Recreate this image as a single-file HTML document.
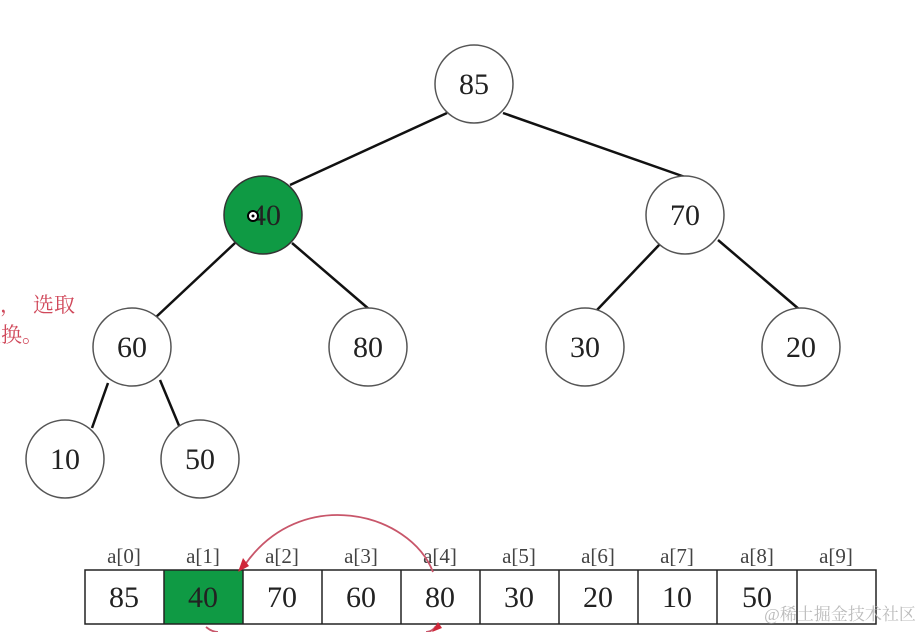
<!DOCTYPE html>
<html><head><meta charset="utf-8"><style>
html,body{margin:0;padding:0;background:#fff;width:920px;height:632px;overflow:hidden}
svg text{font-family:"Liberation Serif","Noto Serif CJK SC",serif}
</style></head><body>
<svg width="920" height="632" viewBox="0 0 920 632" xmlns="http://www.w3.org/2000/svg">
<g stroke="#111" stroke-width="2.5">
<line x1="447" y1="113" x2="290" y2="185"/>
<line x1="503" y1="113" x2="685" y2="177"/>
<line x1="235" y1="243" x2="155" y2="318"/>
<line x1="292" y1="243" x2="370" y2="310"/>
<line x1="660" y1="244" x2="597" y2="310"/>
<line x1="718" y1="240" x2="800" y2="310"/>
<line x1="108" y1="383" x2="92" y2="428"/>
<line x1="160" y1="380" x2="180" y2="428"/>
</g>
<g stroke="#555" stroke-width="1.5" fill="#fff">
<circle cx="474" cy="84" r="39"/>
<circle cx="263" cy="215" r="39" fill="#0f9a44" stroke="#333"/>
<circle cx="685" cy="215" r="39"/>
<circle cx="132" cy="347" r="39"/>
<circle cx="368" cy="347" r="39"/>
<circle cx="585" cy="347" r="39"/>
<circle cx="801" cy="347" r="39"/>
<circle cx="65" cy="459" r="39"/>
<circle cx="200" cy="459" r="39"/>
</g>
<g font-size="30" text-anchor="middle" fill="#222">
<text x="474" y="94">85</text>
<text x="266" y="225">40</text>
<text x="685" y="225">70</text>
<text x="132" y="357">60</text>
<text x="368" y="357">80</text>
<text x="585" y="357">30</text>
<text x="801" y="357">20</text>
<text x="65" y="469">10</text>
<text x="200" y="469">50</text>
</g>
<circle cx="253" cy="216" r="5" fill="#fff" stroke="#000" stroke-width="2"/>
<circle cx="253" cy="216" r="1.5" fill="#000"/>
<g font-size="21" fill="#d0485a" font-family="Liberation Sans,'Noto Sans CJK SC',sans-serif">
<text x="0" y="312">，<tspan x="33">选取</tspan></text>
<text x="-20" y="342">交换。</text>
</g>
<g font-size="21" fill="#444" text-anchor="middle">
<text x="124" y="563">a[0]</text><text x="203" y="563">a[1]</text><text x="282" y="563">a[2]</text><text x="361" y="563">a[3]</text><text x="440" y="563">a[4]</text><text x="519" y="563">a[5]</text><text x="598" y="563">a[6]</text><text x="677" y="563">a[7]</text><text x="757" y="563">a[8]</text><text x="836" y="563">a[9]</text>
</g>
<rect x="164" y="570" width="79" height="54" fill="#0f9a44"/>
<g stroke="#222" stroke-width="1.5" fill="none">
<rect x="85" y="570" width="791" height="54"/>
<line x1="164" y1="570" x2="164" y2="624"/><line x1="243" y1="570" x2="243" y2="624"/><line x1="322" y1="570" x2="322" y2="624"/><line x1="401" y1="570" x2="401" y2="624"/><line x1="480" y1="570" x2="480" y2="624"/><line x1="559" y1="570" x2="559" y2="624"/><line x1="638" y1="570" x2="638" y2="624"/><line x1="717" y1="570" x2="717" y2="624"/><line x1="797" y1="570" x2="797" y2="624"/>
</g>
<g font-size="30" text-anchor="middle" fill="#222">
<text x="124" y="607">85</text><text x="203" y="607">40</text><text x="282" y="607">70</text><text x="361" y="607">60</text><text x="440" y="607">80</text><text x="519" y="607">30</text><text x="598" y="607">20</text><text x="677" y="607">10</text><text x="757" y="607">50</text>
</g>
<g stroke="#c8566a" stroke-width="1.8" fill="none">
<path d="M433 572 C410 512 300 484 244 566"/>
<path d="M206 627 Q212 632 218 632"/>
<path d="M436 626 Q432 632 426 632"/>
</g>
<polygon points="238,572 243,558 249,566" fill="#d0283a"/>
<polygon points="432,632 438,622 442,628" fill="#d0283a"/>
<text x="840" y="620" font-size="17" fill="#bbb" text-anchor="middle" font-family="Liberation Sans,'Noto Sans CJK SC',sans-serif">@稀土掘金技术社区</text>
</svg>
</body></html>
